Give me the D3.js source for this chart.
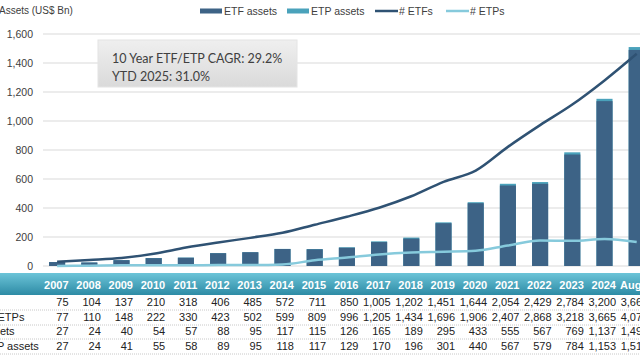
<!DOCTYPE html>
<html><head><meta charset="utf-8">
<script src="https://cdn.jsdelivr.net/npm/d3@7"></script>
<style>
html,body{margin:0;padding:0;background:#fff;overflow:hidden}
svg{display:block;font-family:"Liberation Sans",Arial,sans-serif}
</style></head>
<body><svg id="c" width="640" height="360"></svg>
<script>
const categories = ["2007","2008","2009","2010","2011","2012","2013","2014","2015","2016","2017","2018","2019","2020","2021","2022","2023","2024","Aug-25"];
const etfCount = [75,104,137,210,318,406,485,572,711,850,1005,1202,1451,1644,2054,2429,2784,3200,3660];
const etpCount = [77,110,148,222,330,423,502,599,809,996,1205,1434,1696,1906,2407,2868,3218,3665,4075];
const etfAssets = [27,24,40,54,57,88,95,117,115,126,165,189,295,433,555,567,769,1137,1490];
const etpAssets = [27,24,41,55,58,89,95,118,117,129,170,196,301,440,567,579,784,1153,1510];
const leftTicks = [0,200,400,600,800,1000,1200,1400,1600];
const rowLabels = ["# ETFs","# ETFs/ETPs","ETF assets","ETF/ETP assets"];
const notes = ["10 Year ETF/ETP CAGR: 29.2%","YTD 2025: 31.0%"];

const C = {etf:"#3d6386", etp:"#4aa2bb", lineEtf:"#2f5273", lineEtp:"#86cadc", grid:"#d9d9d9", text:"#404040"};
const svg = d3.select("#c");
const fmt = d3.format(",");

const x = d3.scaleBand().domain(categories).range([41, 41+19*32.2]).paddingInner(0.5).paddingOuter(0.25);
const y = d3.scaleLinear().domain([0,1600]).range([266,34]);
const y2 = d3.scaleLinear().domain([0,4000]).range([266,34]);
const cx = d => x(d)+x.bandwidth()/2;

// gridlines
svg.append("g").selectAll("line").data(leftTicks).join("line")
  .attr("x1",43).attr("x2",640).attr("y1",d=>y(d)).attr("y2",d=>y(d))
  .attr("stroke",C.grid).attr("stroke-width",1.2);
// axis
const ax = svg.append("g").attr("transform","translate(43,0)")
  .call(d3.axisLeft(y).tickValues(leftTicks).tickFormat(fmt).tickSize(0).tickPadding(10));
ax.select(".domain").remove();
ax.selectAll("text").attr("font-size",10.5).attr("fill",C.text).attr("font-family","Liberation Sans, Arial, sans-serif");

// title
svg.append("text").attr("x",-1).attr("y",14).attr("font-size",10).attr("fill",C.text).text("Assets (US$ Bn)");

// bars
const bars = svg.append("g");
bars.selectAll(".etp").data(categories).join("rect")
  .attr("x",d=>x(d)).attr("width",x.bandwidth())
  .attr("y",(d,i)=>y(etpAssets[i])).attr("height",(d,i)=>y(0)-y(etpAssets[i]))
  .attr("fill",C.etp);
bars.selectAll(".etf").data(categories).join("rect")
  .attr("x",d=>x(d)).attr("width",x.bandwidth())
  .attr("y",(d,i)=>y(etfAssets[i])).attr("height",(d,i)=>y(0)-y(etfAssets[i]))
  .attr("fill",C.etf);

// lines
const etpOnly = etpCount.map((v,i)=>v-etfCount[i]);
const line = d3.line().x((d,i)=>cx(categories[i])).y(d=>y2(d)).curve(d3.curveMonotoneX);
svg.append("path").datum(etpOnly).attr("d",line).attr("fill","none").attr("stroke",C.lineEtp).attr("stroke-width",2.5);
svg.append("path").datum(etfCount).attr("d",line).attr("fill","none").attr("stroke",C.lineEtf).attr("stroke-width",2.5);

// legend
const leg = svg.append("g").attr("font-size",10.5).attr("fill",C.text);
const items = [
  {x:200,label:"ETF assets",c:C.etf,type:"rect"},
  {x:287,label:"ETP assets",c:C.etp,type:"rect"},
  {x:375,label:"# ETFs",c:C.lineEtf,type:"line"},
  {x:446,label:"# ETPs",c:C.lineEtp,type:"line"}];
items.forEach(it=>{
  if(it.type==="rect") leg.append("rect").attr("x",it.x).attr("y",8.5).attr("width",22).attr("height",5).attr("fill",it.c);
  else leg.append("line").attr("x1",it.x).attr("x2",it.x+23).attr("y1",11).attr("y2",11).attr("stroke",it.c).attr("stroke-width",2.5);
  leg.append("text").attr("x",it.x+24).attr("y",14.5).attr("fill",C.text).text(it.label);
});

// annotation box
const defs = svg.append("defs");
const g1 = defs.append("linearGradient").attr("id","boxg").attr("x1",0).attr("x2",0).attr("y1",0).attr("y2",1);
g1.append("stop").attr("offset","0%").attr("stop-color","#efefef");
g1.append("stop").attr("offset","100%").attr("stop-color","#dadada");
svg.append("rect").attr("x",98).attr("y",40).attr("width",199).attr("height",47).attr("fill","url(#boxg)").attr("stroke","#e4e4e4");
svg.append("g").selectAll("text").data(notes).join("text")
  .attr("x",112).attr("y",(d,i)=>63+i*18).attr("font-size",12.5).attr("fill",C.text)
  .attr("font-family","Lato, 'Open Sans', sans-serif").text(d=>d);

// table header band
const g2 = defs.append("linearGradient").attr("id","hdr").attr("x1",0).attr("x2",0).attr("y1",0).attr("y2",1);
g2.append("stop").attr("offset","0%").attr("stop-color","#6cc4d8");
g2.append("stop").attr("offset","100%").attr("stop-color","#2d8ba5");
svg.append("rect").attr("x",0).attr("y",273).attr("width",640).attr("height",22).attr("fill","url(#hdr)");
const colR = d => cx(d)+11.5;
const last = categories.length-1;
svg.append("g").selectAll("text").data(categories).join("text")
  .attr("x",(d,i)=> i===last ? 620 : colR(d)).attr("y",289)
  .attr("text-anchor",(d,i)=> i===last ? "start" : "end").attr("font-size",11).attr("font-weight","bold")
  .attr("fill","#fff").text(d=>d);

// rows
const rows = [etfCount, etpCount, etfAssets, etpAssets];
const rowY = [306,321,335,350];
rows.forEach((r,ri)=>{
  const g = svg.append("g").attr("font-size",11).attr("fill","#222");
  g.append("text").attr("x",-41).attr("y",rowY[ri]).text(rowLabels[ri]);
  g.selectAll(".v").data(r).join("text").attr("x",(d,i)=>colR(categories[i])).attr("y",rowY[ri])
    .attr("text-anchor","end").text(d=>fmt(d));
  svg.append("line").attr("x1",0).attr("x2",640).attr("y1",rowY[ri]+4).attr("y2",rowY[ri]+4)
    .attr("stroke","#c8c8c8").attr("stroke-dasharray","1,1");
});
</script></body></html>
